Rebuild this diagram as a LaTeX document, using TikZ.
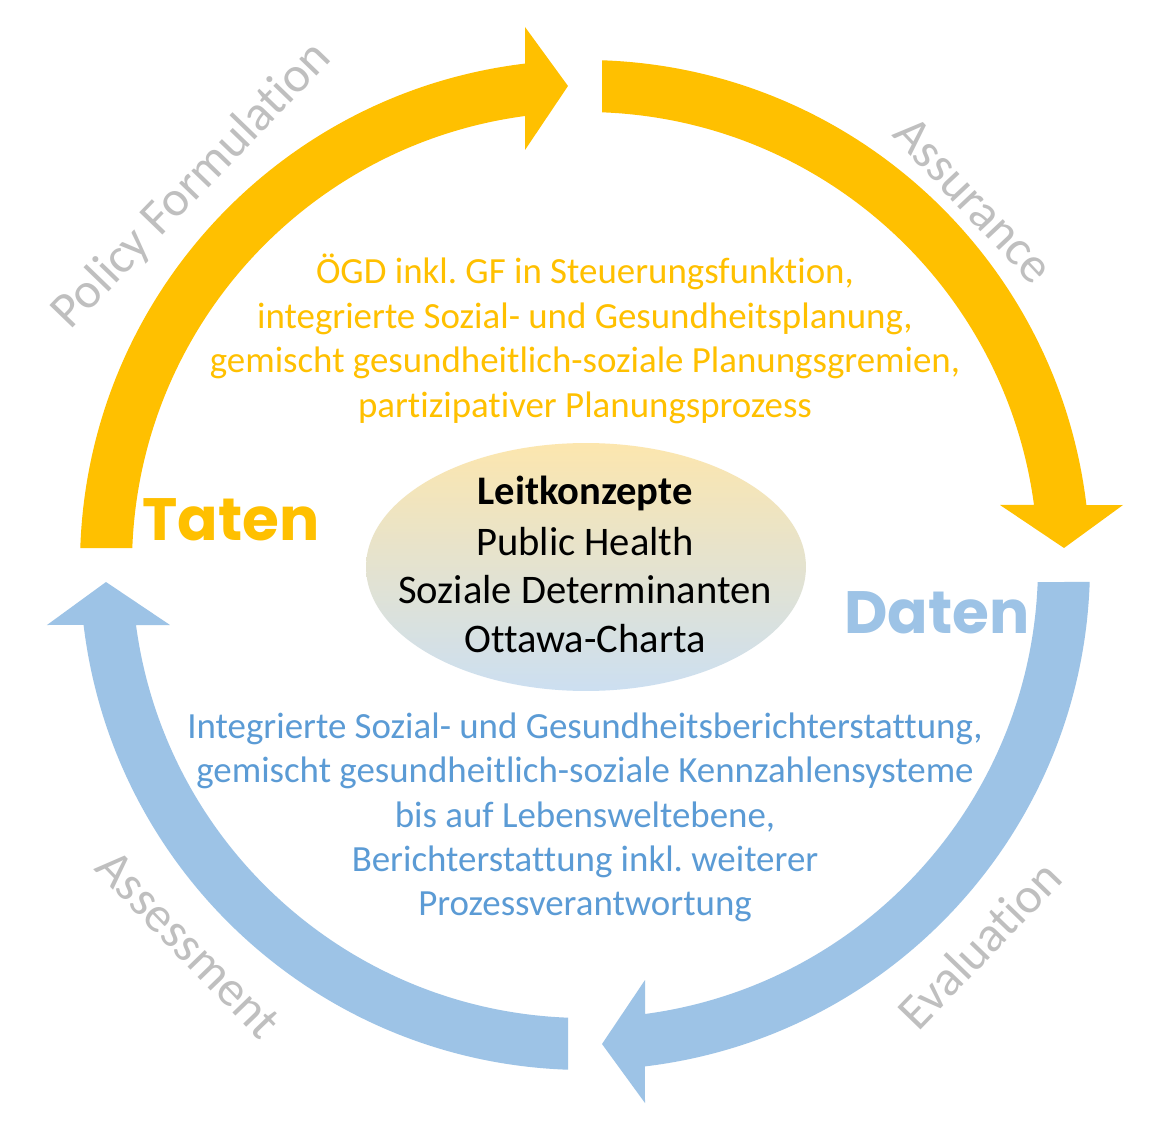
\documentclass[tikz,border=0pt]{standalone}
\usepackage{fontspec}
\setmainfont{Carlito}[Ligatures={NoCommon}]
\newfontfamily\gothicfont{Poppins}
\usetikzlibrary{shapes.geometric}
\frenchspacing

\definecolor{gold}{HTML}{FFC000}
\definecolor{skyarrow}{HTML}{9DC3E6}
\definecolor{bluetext}{HTML}{5B9BD5}
\definecolor{labelgray}{HTML}{BFBFBF}
\definecolor{ovaltop}{HTML}{FCE6AE}
\definecolor{ovalbottom}{HTML}{CCDFF1}

\tikzset{
  phase/.style={text=labelgray, inner sep=0pt, font=\fontsize{28.5}{34}\selectfont},
  keyword/.style={inner sep=0pt, anchor=base, font=\gothicfont\bfseries\fontsize{34}{40}\selectfont},
  ovaltext/.style={inner sep=0pt, anchor=base, text=black, font=\fontsize{23.1}{27.8}\selectfont},
  bodytext/.style={inner sep=0pt, anchor=base, font=\fontsize{21}{25.2}\selectfont},
}

\begin{document}
\begin{tikzpicture}[x=0.02cm, y=0.02cm]
  \useasboundingbox (-585,-560) rectangle (590,565);
  \fill[white] (-585,-560) rectangle (590,565);

  % four curved arrows of the cycle, each a quarter turn from the last
  \foreach \rot/\col in {0/gold, -90/gold, -180/skyarrow, -270/skyarrow} {
    \fill[\col, rotate=\rot]
      (178.07:505) arc[start angle=178.07, end angle=96.82, radius=505]
      -- (-60,538) -- (-17,479) -- (-60,415) -- (-60,449.0)
      arc[start angle=97.61, end angle=177.85, radius=453] -- cycle;
  }

  % phase labels outside the ring
  \node[phase, rotate=46]    (policy) at (136:546)   {Policy Formulation};
  \node[phase, rotate=-46.8] (assur)  at (43.2:533)  {Assurance};
  \node[phase, rotate=46]    (evalu)  at (-43.9:547) {Evaluation};
  \node[phase, rotate=-46]   (assess) at (223.7:549) {Assessment};

  % keywords
  \node[keyword, text=gold]     (taten) at (-354,25)  {Taten};
  \node[keyword, text=skyarrow] (daten) at (352,-68)  {Daten};

  % central oval
  \node[ellipse, minimum width=8.8cm, minimum height=4.96cm, inner sep=0pt,
        top color=ovaltop, bottom color=ovalbottom, draw=none] (oval) at (1,-2) {};
  \node[ovaltext] (lk1) at (0,60)  {\bfseries Leitkonzepte};
  \node[ovaltext] (lk2) at (0,10)  {Public Health};
  \node[ovaltext] (lk3) at (0,-38) {Soziale Determinanten};
  \node[ovaltext] (lk4) at (0,-87) {Ottawa-Charta};

  % action text (upper half)
  \node[bodytext, text=gold] (t1) at (0,281)   {ÖGD inkl. GF in Steuerungsfunktion,};
  \node[bodytext, text=gold] (t2) at (0,236.5) {integrierte Sozial- und Gesundheitsplanung,};
  \node[bodytext, text=gold] (t3) at (0,192)   {gemischt gesundheitlich-soziale Planungsgremien,};
  \node[bodytext, text=gold] (t4) at (0,147.5) {partizipativer Planungsprozess};

  % data text (lower half)
  \node[bodytext, text=bluetext] (d1) at (0,-173) {Integrierte Sozial- und Gesundheitsberichterstattung,};
  \node[bodytext, text=bluetext] (d2) at (0,-217) {gemischt gesundheitlich-soziale Kennzahlensysteme};
  \node[bodytext, text=bluetext] (d3) at (0,-262) {bis auf Lebensweltebene,};
  \node[bodytext, text=bluetext] (d4) at (0,-306) {Berichterstattung inkl. weiterer};
  \node[bodytext, text=bluetext] (d5) at (0,-350) {Prozessverantwortung};
\end{tikzpicture}
\end{document}
